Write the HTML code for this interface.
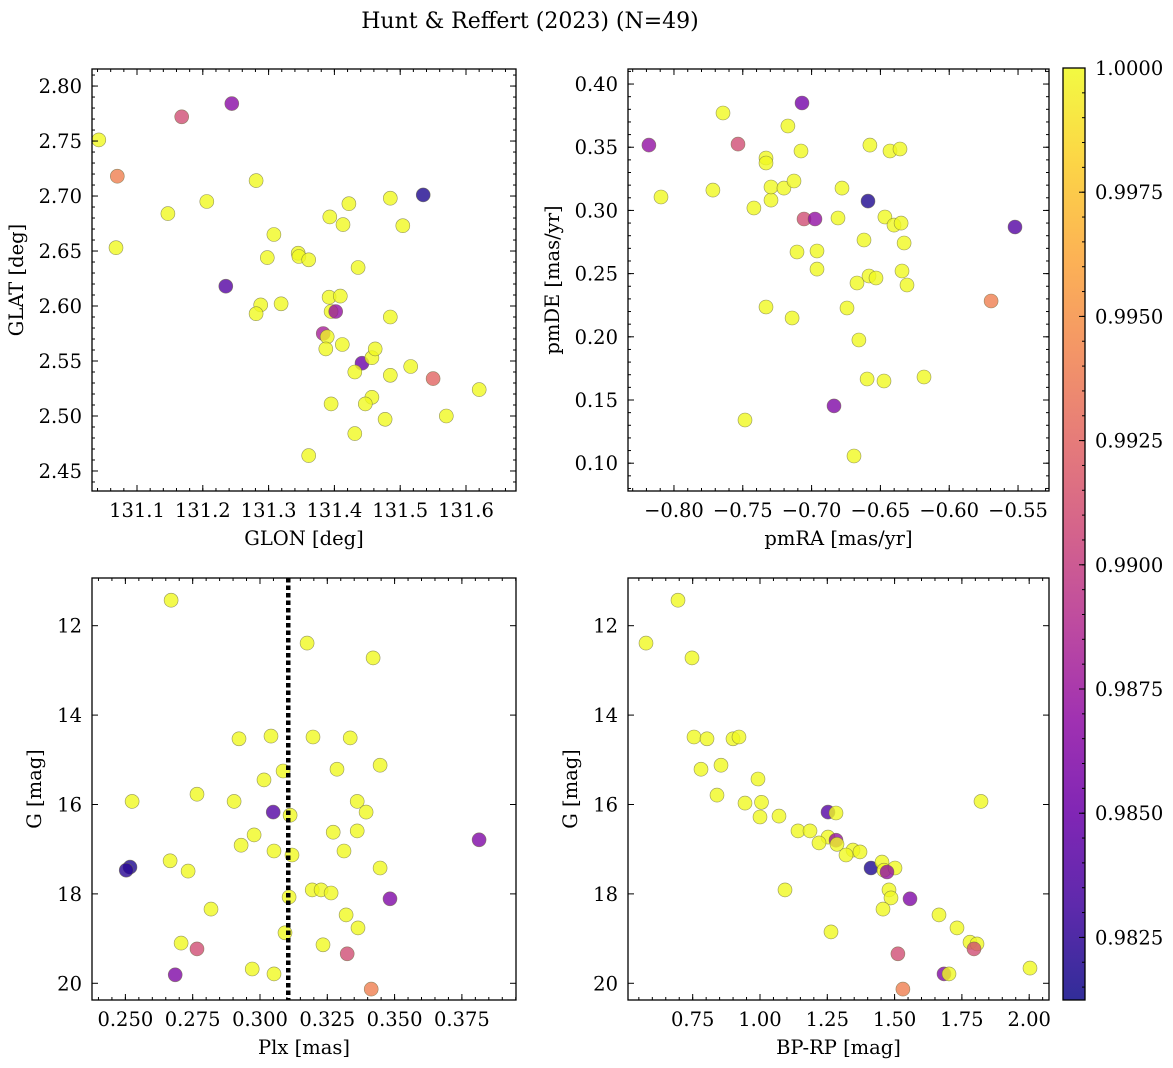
<!DOCTYPE html>
<html>
<head>
<meta charset="utf-8">
<style>
  html,body{margin:0;padding:0;background:#fff;}
  svg{display:block;}
  text{font-family:"DejaVu Serif","Liberation Serif",serif;fill:#000;}
</style>
</head>
<body>
<svg id="fig" width="1173" height="1068" viewBox="0 0 1173 1068" xmlns="http://www.w3.org/2000/svg">
  <text x="530" y="28" font-size="22" text-anchor="middle">Hunt &amp; Reffert (2023) (N=49)</text>
</svg>
<script>
// ---------- Panel 1: GLON vs GLAT ----------
const p1Lon = [131.042,131.168,131.244,131.070,131.147,131.206,131.281,131.068,131.535,131.485,131.422,131.393,131.413,131.308,131.504,131.235,131.298,131.345,131.346,131.361,131.436,131.392,131.409,131.288,131.281,131.319,131.395,131.402,131.485,131.383,131.389,131.412,131.387,131.442,131.457,131.462,131.516,131.431,131.485,131.550,131.620,131.457,131.447,131.395,131.570,131.477,131.431,131.361];
const p1Lat = [2.751,2.772,2.784,2.718,2.684,2.695,2.714,2.653,2.701,2.698,2.693,2.681,2.674,2.665,2.673,2.618,2.644,2.648,2.645,2.642,2.635,2.608,2.609,2.601,2.593,2.602,2.595,2.595,2.590,2.575,2.572,2.565,2.561,2.548,2.553,2.561,2.545,2.540,2.537,2.534,2.524,2.517,2.511,2.511,2.500,2.497,2.484,2.464];
const p1Prob = [1,0.991,0.9865,0.994,1,1,1,1,0.9818,1,1,1,1,1,1,0.984,1,1,1,1,1,1,1,1,1,1,1,0.987,1,0.988,1,1,1,0.985,1,1,1,1,1,0.9925,1,1,1,1,1,1,1,1];
const p1XTicks = ["131.1","131.2","131.3","131.4","131.5","131.6"];
const p1YTicks = ["2.45","2.50","2.55","2.60","2.65","2.70","2.75","2.80"];

// ---------- Panel 2: pmRA vs pmDE ----------
const p2PmRA = [-0.7644,-0.7070,-0.8182,-0.7535,-0.8094,-0.7331,-0.7331,-0.7077,-0.6576,-0.6430,-0.6358,-0.7172,-0.7717,-0.7419,-0.7295,-0.7295,-0.7201,-0.7128,-0.6779,-0.6590,-0.7055,-0.6975,-0.6808,-0.6467,-0.6401,-0.6350,-0.7106,-0.6961,-0.6961,-0.6619,-0.6328,-0.6670,-0.6583,-0.6532,-0.6343,-0.6307,-0.5522,-0.5696,-0.7331,-0.7142,-0.6743,-0.6656,-0.6597,-0.6474,-0.6183,-0.6837,-0.7484,-0.6692];
const p2PmDE = [0.3771,0.3850,0.3517,0.3525,0.3106,0.3415,0.3375,0.3470,0.3517,0.3470,0.3486,0.3668,0.3161,0.3019,0.3082,0.3185,0.3177,0.3233,0.3177,0.3074,0.2932,0.2932,0.2940,0.2948,0.2884,0.2900,0.2671,0.2679,0.2536,0.2766,0.2742,0.2426,0.2481,0.2465,0.2521,0.2410,0.2869,0.2283,0.2236,0.2149,0.2228,0.1975,0.1666,0.1650,0.1682,0.1453,0.1342,0.1057];
const p2Prob = [1,0.9855,0.987,0.991,1,1,1,1,1,1,1,1,1,1,1,1,1,1,1,0.9818,0.991,0.987,1,1,1,1,1,1,1,1,1,1,1,1,1,1,0.984,0.994,1,1,1,1,1,1,1,0.986,1,1];
const p2XTicks = ["−0.80","−0.75","−0.70","−0.65","−0.60","−0.55"];
const p2YTicks = ["0.10","0.15","0.20","0.25","0.30","0.35","0.40"];

// ---------- Panel 3: Plx vs G ----------
const p3Plx = [0.2670,0.3175,0.3420,0.2922,0.3041,0.3197,0.3335,0.3446,0.3086,0.3015,0.3286,0.2525,0.2766,0.2904,0.3049,0.3361,0.3394,0.3112,0.3272,0.3361,0.2978,0.2930,0.3052,0.3312,0.3119,0.2666,0.2733,0.2517,0.2503,0.3446,0.3814,0.3194,0.3227,0.3264,0.3108,0.3483,0.2818,0.3320,0.3364,0.3093,0.2707,0.3234,0.2766,0.3324,0.2971,0.3052,0.2685,0.3413];
const p3G = [11.43,12.39,12.72,14.53,14.47,14.49,14.51,15.12,15.25,15.45,15.21,15.93,15.77,15.93,16.17,15.93,16.17,16.24,16.62,16.59,16.68,16.91,17.04,17.04,17.13,17.26,17.49,17.40,17.47,17.42,16.79,17.91,17.91,17.98,18.07,18.11,18.34,18.47,18.76,18.87,19.10,19.14,19.23,19.34,19.68,19.79,19.81,20.13];
const p3Prob = [1,1,1,1,1,1,1,1,1,1,1,1,1,1,0.984,1,1,1,1,1,1,1,1,1,1,1,1,0.9818,0.9822,1,0.986,1,1,1,1,0.986,1,1,1,1,1,1,0.991,0.991,1,1,0.986,0.994];
const p3XTicks = ["0.250","0.275","0.300","0.325","0.350","0.375"];
const p3YTicks = ["12","14","16","18","20"];
const p3PlxLine = [0.3105];

// ---------- Panel 4: BP-RP vs G ----------
const p4BpRp = [0.5765,0.6954,0.7474,0.7548,0.8031,0.8997,0.9220,0.7808,0.8551,0.9926,0.8403,0.9443,1.0057,1.0000,1.0706,1.1412,1.1858,1.2527,1.2192,1.2823,1.2860,1.3454,1.3194,1.3714,1.8209,1.2527,1.2823,1.4123,1.4532,1.4606,1.5015,1.4718,1.4792,1.4866,1.5572,1.4569,1.6650,1.0929,1.2637,1.7318,1.7801,1.8061,1.7950,1.5123,2.0031,1.6836,1.7021,1.5309];
const p4G = [12.39,11.43,12.72,14.49,14.53,14.53,14.49,15.21,15.12,15.43,15.79,15.97,15.95,16.28,16.26,16.59,16.59,16.73,16.86,16.80,16.89,17.02,17.13,17.06,15.93,16.17,16.19,17.42,17.29,17.47,17.42,17.51,17.91,18.09,18.11,18.34,18.47,17.91,18.85,18.76,19.08,19.12,19.23,19.34,19.66,19.79,19.79,20.13];
const p4Prob = [1,1,1,1,1,1,1,1,1,1,1,1,1,1,1,1,1,1,1,0.987,1,1,1,1,1,0.984,1,0.9818,1,1,1,0.987,1,1,0.986,1,1,1,1,1,1,1,0.991,0.991,1,0.986,1,0.994];
const p4XTicks = ["0.75","1.00","1.25","1.50","1.75","2.00"];
const p4YTicks = ["12","14","16","18","20"];

// ---------- Colorbar ----------
const cbTicks = ["0.9825","0.9850","0.9875","0.9900","0.9925","0.9950","0.9975","1.0000"];
const cbMin = 0.98124, cbMax = 1.0;

const NS = "http://www.w3.org/2000/svg";
const svg = document.getElementById("fig");
const FS = 19.5;

const plasmaStops = [[0,"#0d0887"],[0.1,"#41049d"],[0.2,"#6a00a8"],[0.3,"#8f0da4"],[0.4,"#b12a90"],[0.5,"#cc4778"],[0.6,"#e16462"],[0.7,"#f2844b"],[0.8,"#fca636"],[0.9,"#fcce25"],[1,"#f0f921"]];
function hex(c){return [parseInt(c.substr(1,2),16),parseInt(c.substr(3,2),16),parseInt(c.substr(5,2),16)];}
function plasma(t){
  t=Math.max(0,Math.min(1,t));
  for(let i=1;i<plasmaStops.length;i++){
    if(t<=plasmaStops[i][0]){
      const a=plasmaStops[i-1],b=plasmaStops[i];
      const f=(t-a[0])/(b[0]-a[0]);
      const ca=hex(a[1]),cb=hex(b[1]);
      return "rgb("+ca.map((v,k)=>Math.round(v+(cb[k]-v)*f)).join(",")+")";
    }
  }
  return plasmaStops[plasmaStops.length-1][1];
}
function mk(tag,attrs,parent){
  const e=document.createElementNS(NS,tag);
  for(const k in attrs) e.setAttribute(k,attrs[k]);
  (parent||svg).appendChild(e);
  return e;
}
function linScale(d0,d1,r0,r1){return v=>r0+(v-d0)*(r1-r0)/(d1-d0);}

function panel(cfg){
  const g=mk("g",{});
  
  
  const sx=linScale(cfg.xd[0],cfg.xd[1],cfg.x0,cfg.x1);
  const sy=linScale(cfg.yd[0],cfg.yd[1],cfg.y1,cfg.y0);
  const pg=mk("g",{},g);
  
  
  for(let i=0;i<cfg.xs.length;i++){
    const c=mk("circle",{cx:sx(cfg.xs[i]).toFixed(1),cy:sy(cfg.ys[i]).toFixed(1),r:7,fill:plasma((cfg.prob[i]-cbMin)/(cbMax-cbMin)),"fill-opacity":0.8,stroke:"#6b6b40","stroke-width":0.6,"stroke-opacity":0.7},pg);
    
    
  }
  if(cfg.vline){
    const X=sx(cfg.vline[0]);
    const l=mk("line",{x1:X,x2:X,y1:cfg.y0,y2:cfg.y1,stroke:"#000","stroke-width":4.5,"stroke-dasharray":"4.5,3"},g);
    
    
  }
  const fr=mk("rect",{x:cfg.x0,y:cfg.y0,width:cfg.x1-cfg.x0,height:cfg.y1-cfg.y0,fill:"none",stroke:"#000","stroke-width":1.3},g);
  
  
  const tg=mk("g",{stroke:"#000","stroke-width":1},g);
  function xTick(v,len){const X=sx(v);mk("line",{x1:X,x2:X,y1:cfg.y1,y2:cfg.y1-len},tg);mk("line",{x1:X,x2:X,y1:cfg.y0,y2:cfg.y0+len},tg);}
  function yTick(v,len){const Y=sy(v);mk("line",{x1:cfg.x0,x2:cfg.x0+len,y1:Y,y2:Y},tg);mk("line",{x1:cfg.x1,x2:cfg.x1-len,y1:Y,y2:Y},tg);}
  const eps=1e-9;
  for(let v=Math.ceil(cfg.xd[0]/cfg.xmin-eps)*cfg.xmin;v<=cfg.xd[1]+eps;v+=cfg.xmin) xTick(v,3);
  for(let v=Math.ceil(cfg.yd[0]/cfg.ymin-eps)*cfg.ymin;v<=cfg.yd[1]+eps;v+=cfg.ymin) yTick(v,3);
  cfg.xticks.forEach(s=>{
    const v=parseFloat(s.replace("−","-"));
    xTick(v,6);
    const t=mk("text",{x:sx(v),y:cfg.y1+26,"font-size":FS,"text-anchor":"middle"},g);
    t.textContent=s;
    
    
  });
  cfg.yticks.forEach(s=>{
    const v=parseFloat(s);
    yTick(v,6);
    const t=mk("text",{x:cfg.x0-10,y:sy(v)+7,"font-size":FS,"text-anchor":"end"},g);
    t.textContent=s;
    
    
  });
  const xl=mk("text",{x:(cfg.x0+cfg.x1)/2,y:cfg.y1+54,"font-size":FS,"text-anchor":"middle"},g);
  xl.textContent=cfg.xlabel;
  
  
  const yc=(cfg.y0+cfg.y1)/2;
  const yl=mk("text",{x:cfg.ylx,y:yc,"font-size":FS,"text-anchor":"middle",transform:"rotate(-90 "+cfg.ylx+" "+yc+")"},g);
  yl.textContent=cfg.ylabel;
  
  
}

panel({name:"glon-glat-panel",x0:92,x1:516,y0:69,y1:491,xd:[131.0316,131.676],yd:[2.4318,2.8155],xs:p1Lon,ys:p1Lat,prob:p1Prob,xticks:p1XTicks,yticks:p1YTicks,xmin:0.02,ymin:0.01,xlabel:"GLON [deg]",ylabel:"GLAT [deg]",ylx:23});
panel({name:"pm-panel",x0:628,x1:1049,y0:69,y1:491,xd:[-0.8334,-0.5275],yd:[0.078,0.4119],xs:p2PmRA,ys:p2PmDE,prob:p2Prob,xticks:p2XTicks,yticks:p2YTicks,xmin:0.01,ymin:0.01,xlabel:"pmRA [mas/yr]",ylabel:"pmDE [mas/yr]",ylx:559});
panel({name:"plx-g-panel",x0:92,x1:516,y0:578,y1:1000,xd:[0.2376,0.3951],yd:[20.374,10.933],xs:p3Plx,ys:p3G,prob:p3Prob,xticks:p3XTicks,yticks:p3YTicks,xmin:0.005,ymin:0.5,xlabel:"Plx [mas]",ylabel:"G [mag]",ylx:41,vline:p3PlxLine});
panel({name:"cmd-panel",x0:628,x1:1049,y0:578,y1:1000,xd:[0.5097,2.0736],yd:[20.374,10.933],xs:p4BpRp,ys:p4G,prob:p4Prob,xticks:p4XTicks,yticks:p4YTicks,xmin:0.05,ymin:0.5,xlabel:"BP-RP [mag]",ylabel:"G [mag]",ylx:577});

(function(){
  const cx0=1063,cx1=1085,cy0=68,cy1=1000;
  const defs=mk("defs",{});
  const lg=mk("linearGradient",{id:"plasmaGrad",x1:0,y1:1,x2:0,y2:0},defs);
  plasmaStops.forEach(s=>mk("stop",{offset:s[0],"stop-color":s[1],"stop-opacity":0.85},lg));
  const g=mk("g",{});
  
  
  mk("rect",{x:cx0,y:cy0,width:cx1-cx0,height:cy1-cy0,fill:"url(#plasmaGrad)",stroke:"#000","stroke-width":1.3},g);
  const sy=linScale(cbMin,cbMax,cy1,cy0);
  const tg=mk("g",{stroke:"#000","stroke-width":1},g);
  for(let v=0.9815;v<=1.00001;v+=0.0005){const Y=sy(v);mk("line",{x1:cx1,x2:cx1-3,y1:Y,y2:Y},tg);}
  cbTicks.forEach(s=>{
    const v=parseFloat(s),Y=sy(v);
    mk("line",{x1:cx1,x2:cx1-6,y1:Y,y2:Y},tg);
    const t=mk("text",{x:cx1+10,y:Y+7,"font-size":FS},g);
    t.textContent=s;
    
    
  });
})();
</script>
</body>
</html>
